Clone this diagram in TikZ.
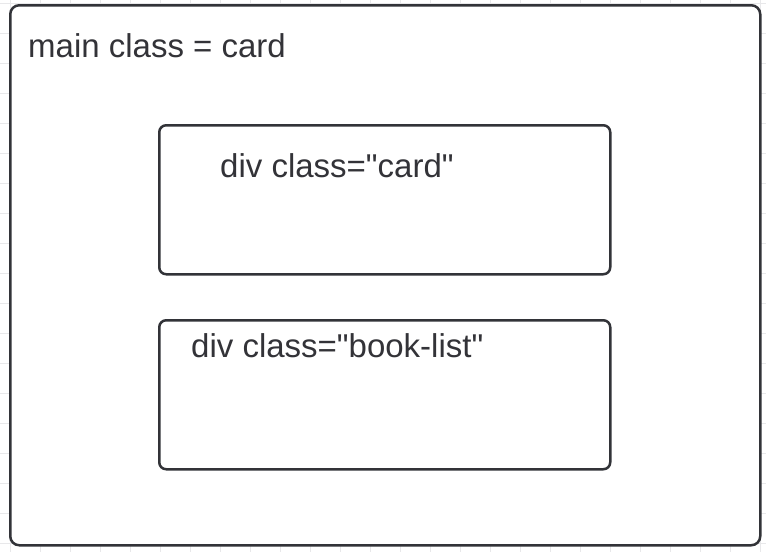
\documentclass[tikz,border=0pt]{standalone}
\usepackage{fontspec}
\setmainfont{Liberation Sans}[Ligatures=TeXOff]
\usetikzlibrary{positioning}

\definecolor{linegray}{RGB}{50,51,56}
\definecolor{textgray}{RGB}{51,51,56}
\definecolor{gridgray}{RGB}{232,232,234}

\begin{document}
\begin{tikzpicture}[x=1pt,y=-1pt]

  \tikzset{main box/.style={rectangle, draw=linegray, line width=2.5pt,
  		fill=white, inner sep=0pt, anchor=north west}, }
  \tikzset{main text/.style={inner sep=0pt, anchor=base west, text=textgray,
  		font=\fontsize{33}{40}\selectfont}, }
  \tikzset{grid line/.style={draw=gridgray, line width=0.8pt}, }

  \useasboundingbox (0,0) rectangle (766,552);
  \fill[white] (0,0) rectangle (766,552);
%
\foreach \x in {10,40,...,760}
  \path[grid line] (\x,0) -- (\x,552);
\foreach \y in {3,33,...,552}
  \path[grid line] (0,\y) -- (766,\y);
%
   \node[main box, rounded corners=9pt, minimum width=750pt, minimum height=540pt] (main) at (9,4) {};
   \node[main box, rounded corners=7pt, minimum width=451pt, minimum height=149pt] (card) at (158,124) {};
   \node[main box, rounded corners=7pt, minimum width=451pt, minimum height=149pt] (booklist) at (158,319) {};
%
   \node[main text] (maintext) at ([shift={(19,53)}]main.north west) {main class = card};
   \node[main text] (cardtext) at ([shift={(62,53)}]card.north west) {div class="card"};
   \node[main text] (booklisttext) at ([shift={(33,38)}]booklist.north west) {div class="book-list"};
%
\end{tikzpicture}
\end{document}
